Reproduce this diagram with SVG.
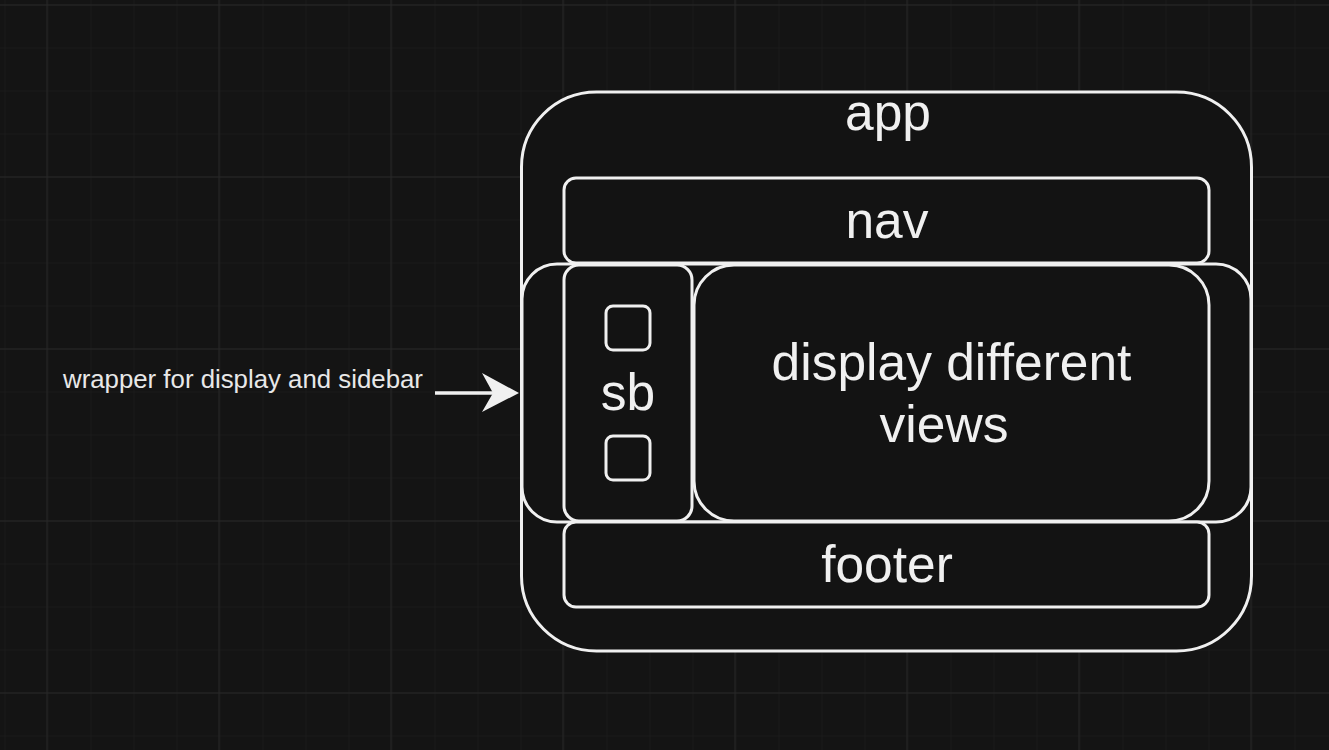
<svg xmlns="http://www.w3.org/2000/svg" width="1329" height="750" viewBox="0 0 1329 750">
  <style>
    .box { fill: #131313; stroke: #f0f0f0; stroke-width: 3; }
    .lbl { fill: #f0f0f0; font-family: "Liberation Sans", Arial, sans-serif; font-size: 51.5px; text-anchor: middle; }
    .small { fill: #e8e8e8; font-family: "Liberation Sans", Arial, sans-serif; font-size: 25.8px; }
    .minor { stroke: #1a1a1a; stroke-width: 1; }
    .major { stroke: #272727; stroke-width: 1; }
    .conn { stroke: #f0f0f0; stroke-width: 3.5; fill: none; }
  </style>
  <defs>
    <pattern id="minorGrid" x="4.5" y="4.5" width="43" height="43" patternUnits="userSpaceOnUse">
      <path d="M 0.5 0 V 43 M 0 0.5 H 43" class="minor"/>
    </pattern>
    <pattern id="majorGrid" x="46.5" y="4.5" width="172" height="172" patternUnits="userSpaceOnUse">
      <path d="M 0.5 0 V 172 M 0 0.5 H 172" class="major"/>
    </pattern>
  </defs>
  <rect x="0" y="0" width="1329" height="750" fill="#141414"/>
  <rect x="0" y="0" width="1329" height="750" fill="url(#minorGrid)"/>
  <rect x="0" y="0" width="1329" height="750" fill="url(#majorGrid)"/>

  <g id="app">
    <rect class="box" x="521.5" y="92" width="730" height="559" rx="75" ry="75"/>
    <text class="lbl" x="888" y="130">app</text>
  </g>
  <g id="nav">
    <rect class="box" x="564" y="178" width="645" height="85" rx="12" ry="12"/>
    <text class="lbl" x="887" y="238">nav</text>
  </g>
  <g id="wrapper">
    <rect class="box" x="522" y="264" width="729" height="258" rx="35" ry="35"/>
  </g>
  <g id="sb">
    <rect class="box" x="564" y="265" width="128" height="256" rx="15" ry="15"/>
    <rect class="box" x="606" y="306" width="44" height="44" rx="7" ry="7"/>
    <rect class="box" x="606" y="436" width="44" height="44" rx="7" ry="7"/>
    <text class="lbl" x="628" y="410">sb</text>
  </g>
  <g id="display">
    <rect class="box" x="694" y="265" width="515" height="256" rx="40" ry="40"/>
    <text class="lbl" x="951.5" y="380">display different</text>
    <text class="lbl" x="944" y="442">views</text>
  </g>
  <g id="footer">
    <rect class="box" x="564" y="522" width="645" height="85" rx="12" ry="12"/>
    <text class="lbl" x="887" y="582">footer</text>
  </g>
  <g id="wrapper-label">
    <text class="small" x="63" y="388">wrapper for display and sidebar</text>
  </g>
  <g id="connectors">
    <line class="conn" x1="435" y1="393" x2="496" y2="393"/>
    <polygon points="519,393 482,373 493,393 482,412" fill="#f0f0f0"/>
  </g>
</svg>
